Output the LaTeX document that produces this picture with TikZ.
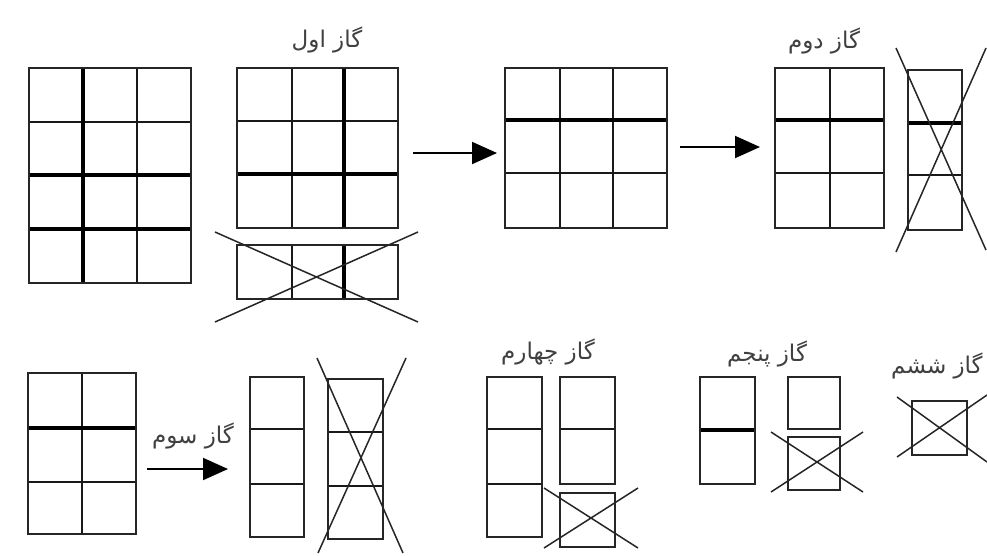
\documentclass[tikz,border=0pt]{standalone}
\usepackage{fontspec}
\usetikzlibrary{arrows.meta}
\TeXXeTstate=1
\newfontfamily\arabicfont[Script=Arabic]{DejaVu Sans}
\tikzset{
  boxline/.style={draw=black!85, line width=2.2pt},
  inline/.style={draw=black!90, line width=2.2pt},
  thickline/.style={draw=black, line width=3.2pt},
  crossline/.style={draw=black!85, line width=1.5pt},
  passarrow/.style={draw=black, line width=2pt, -{Triangle[length=25pt,width=22pt]}},
  passlabel/.style={font=\arabicfont\fontsize{23}{26}\selectfont, text=black!75, inner sep=0pt}
}
\begin{document}
\begin{tikzpicture}[x=1pt,y=-1pt]
\useasboundingbox[fill=white] (0,0) rectangle (987,555);
% Grid A
\draw[inline] (137,68) -- (137,283) (29,122) -- (191,122);
\draw[thickline] (83,68) -- (83,283) (29,175) -- (191,175) (29,229) -- (191,229);
\draw[boxline] (29,68) rectangle (191,283);
% Grid B
\draw[inline] (292,68) -- (292,228) (237,121) -- (398,121);
\draw[thickline] (344,68) -- (344,228) (237,174) -- (398,174);
\draw[boxline] (237,68) rectangle (398,228);
% Strip B
\draw[inline] (292,245) -- (292,299);
\draw[thickline] (344,245) -- (344,299);
\draw[boxline] (237,245) rectangle (398,299);
\draw[crossline] (215,232) -- (418,322) (215,322) -- (418,232);
\node[passlabel] (lab1) at (327,40) {\beginR گاز اول\endR};
% Arrow 1
\coordinate (a1s) at (413,153);
\coordinate (a1e) at (497,153);
\draw[passarrow] (a1s) -- (a1e);
% Grid C
\draw[inline] (560,68) -- (560,228) (613,68) -- (613,228) (505,173) -- (667,173);
\draw[thickline] (505,120) -- (667,120);
\draw[boxline] (505,68) rectangle (667,228);
% Arrow 2
\coordinate (a2s) at (680,147);
\coordinate (a2e) at (760,147);
\draw[passarrow] (a2s) -- (a2e);
% Grid D
\draw[inline] (830,68) -- (830,228) (775,173) -- (884,173);
\draw[thickline] (775,120) -- (884,120);
\draw[boxline] (775,68) rectangle (884,228);
\node[passlabel] (lab2) at (824,41) {\beginR گاز دوم\endR};
% Strip D
\draw[inline] (908,175) -- (962,175);
\draw[thickline] (908,123) -- (962,123);
\draw[boxline] (908,70) rectangle (962,230);
\draw[crossline] (896,48) -- (986,250) (986,48) -- (896,252);
% Grid E
\draw[inline] (82,373) -- (82,534) (28,482) -- (136,482);
\draw[thickline] (28,428) -- (136,428);
\draw[boxline] (28,373) rectangle (136,534);
% Arrow 3
\coordinate (a3s) at (147,469);
\coordinate (a3e) at (228,469);
\draw[passarrow] (a3s) -- (a3e);
\node[passlabel] (lab3) at (193,436) {\beginR گاز سوم\endR};
% Grid F
\draw[inline] (250,429) -- (304,429) (250,484) -- (304,484);
\draw[boxline] (250,377) rectangle (304,537);
% Strip F
\draw[inline] (328,432) -- (383,432) (328,486) -- (383,486);
\draw[boxline] (328,379) rectangle (383,539);
\draw[crossline] (317,358) -- (403,553) (406,358) -- (318,553);
% Grid G
\draw[inline] (487,429) -- (542,429) (487,484) -- (542,484);
\draw[boxline] (487,377) rectangle (542,537);
\draw[inline] (560,429) -- (615,429);
\draw[boxline] (560,377) rectangle (615,484);
\draw[boxline] (560,493) rectangle (615,547);
\draw[crossline] (544,488) -- (638,548) (638,488) -- (544,548);
\node[passlabel] (lab4) at (548,352) {\beginR گاز چهارم\endR};
% Grid H
\draw[thickline] (700,430) -- (755,430);
\draw[boxline] (700,377) rectangle (755,484);
\draw[boxline] (788,377) rectangle (840,429);
\draw[boxline] (788,437) rectangle (840,490);
\draw[crossline] (771,432) -- (863,492) (863,432) -- (771,492);
\node[passlabel] (lab5) at (767,354) {\beginR گاز پنجم\endR};
% Grid I
\draw[boxline] (912,401) rectangle (967,455);
\draw[crossline] (897,397) -- (987,462) (897,457) -- (987,395);
\node[passlabel, anchor=west] (lab6) at (891,366) {\beginR گاز ششم\endR};
\end{tikzpicture}
\end{document}
